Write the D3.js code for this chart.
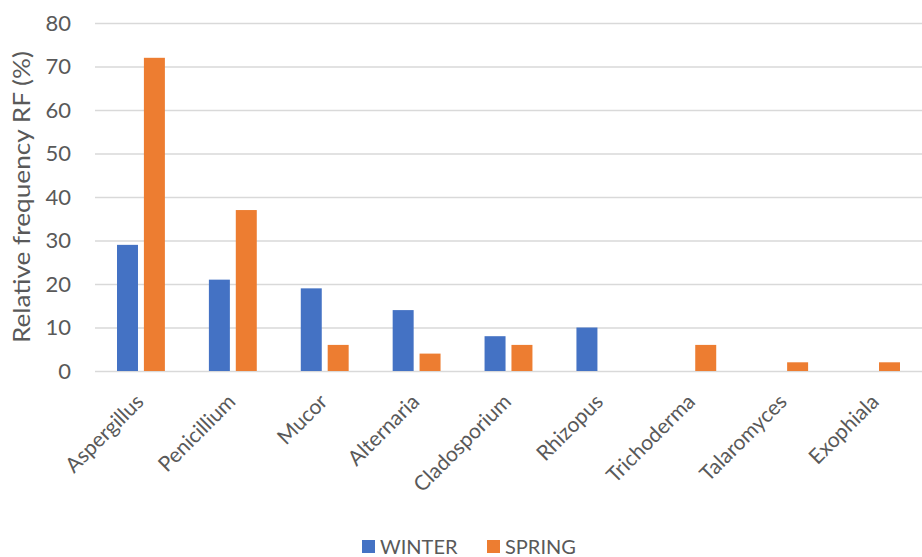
<!DOCTYPE html>
<html><head><meta charset="utf-8">
<script src="https://cdn.jsdelivr.net/npm/d3@7"></script>
<style>body{margin:0;background:#fff}svg{display:block}text{font-family:Lato,"Open Sans",sans-serif;fill:#595959}</style>
</head><body><svg id="c" width="922" height="557"></svg>
<script>
const categories = ["Aspergillus","Penicillium","Mucor","Alternaria","Cladosporium","Rhizopus","Trichoderma","Talaromyces","Exophiala"];
const winter = [29,21,19,14,8,10,0,0,0];
const spring = [72,37,6,4,6,0,6,2,2];
const seriesNames = ["WINTER","SPRING"];
const colors = ["#4472C4","#ED7D31"];
const yTicks = [0,10,20,30,40,50,60,70,80];

const svg = d3.select("#c");
const L=95, R=922, T=23, B=371;
const x = d3.scaleBand().domain(categories).range([L,R]);
const y = d3.scaleLinear().domain([0,80]).range([B,T]);
const xs = d3.scaleBand().domain(seriesNames).range([22,x.bandwidth()-22]).paddingInner(0.22);

const ya = svg.append("g").attr("transform",`translate(${L},0)`)
  .call(d3.axisLeft(y).tickValues(yTicks).tickSize(-(R-L)).tickPadding(24));
ya.select(".domain").remove();
ya.selectAll(".tick line").attr("stroke","#d9d9d9").attr("stroke-width",1.3);
ya.selectAll(".tick text").style("font-size","22px").style("font-family","Lato").attr("fill","#595959");

const data = [winter, spring];
data.forEach((vals,si)=>{
  svg.append("g").selectAll("rect").data(vals).join("rect")
    .attr("x",(d,i)=>x(categories[i])+xs(seriesNames[si]))
    .attr("width",xs.bandwidth())
    .attr("y",d=>y(d))
    .attr("height",d=>B-y(d))
    .attr("fill",colors[si]);
});

const xa = svg.append("g").attr("transform",`translate(0,${B})`)
  .call(d3.axisBottom(x).tickSize(0));
xa.select(".domain").remove();
xa.selectAll(".tick text")
  .style("font-size","21px").style("font-family","Lato").attr("fill","#595959")
  .attr("text-anchor","end")
  .attr("dy",0).attr("y",0)
  .attr("transform","translate(4,32) rotate(-45)");

svg.append("text").attr("transform","translate(30,197) rotate(-90)")
  .attr("text-anchor","middle").style("font-size","23px").attr("textLength",292).attr("lengthAdjust","spacingAndGlyphs")
  .text("Relative frequency RF  (%)");

const leg = svg.append("g");
const legX=[362,487];
seriesNames.forEach((n,i)=>{
  leg.append("rect").attr("x",legX[i]).attr("y",540).attr("width",13).attr("height",13).attr("fill",colors[i]);
  leg.append("text").attr("x",legX[i]+18).attr("y",554).style("font-size","20px").text(n);
});
</script></body></html>
